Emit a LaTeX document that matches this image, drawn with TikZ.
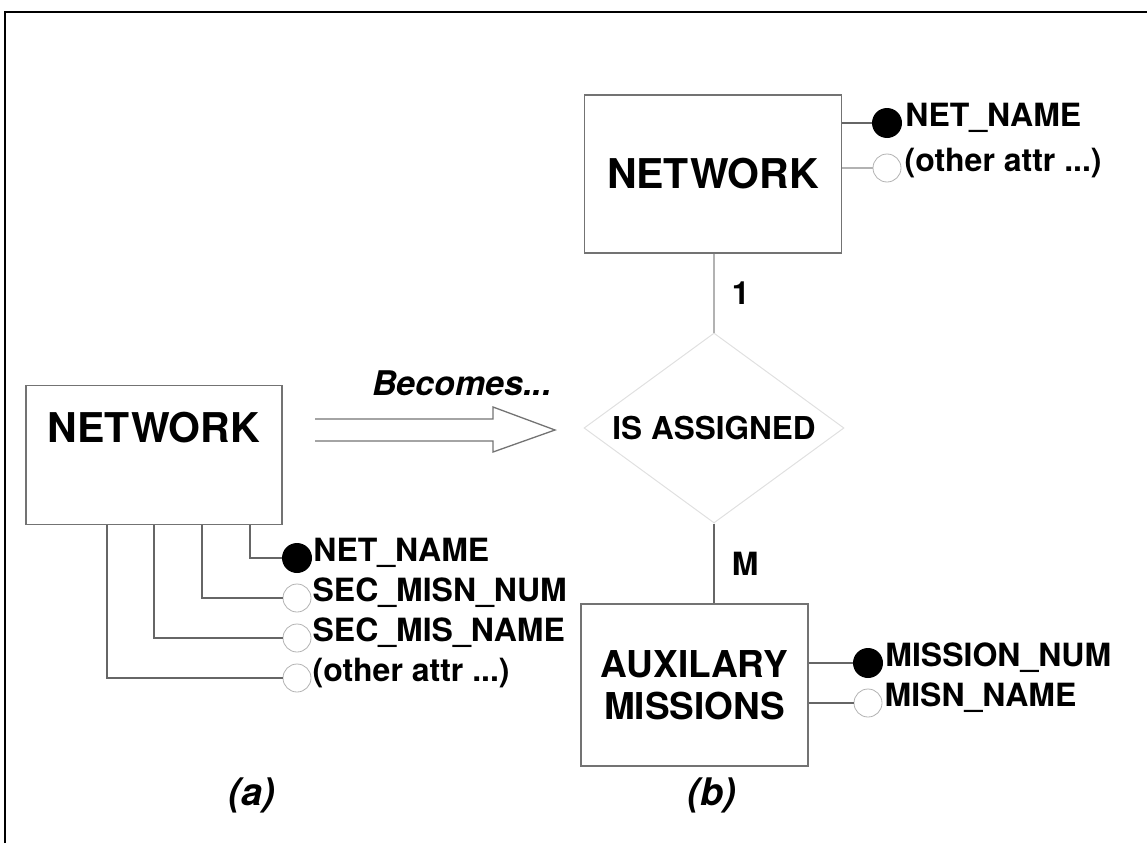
\documentclass[tikz,border=0pt]{standalone}
\usepackage{fontspec}
\setmainfont{TeX Gyre Heros}
\usetikzlibrary{shapes.geometric,positioning}

\begin{document}
\begin{tikzpicture}[x=1pt,y=-1pt,
  entity/.style={draw=black!55,line width=1.3pt,inner sep=0pt},
  bigname/.style={font=\bfseries\fontsize{41}{46}\selectfont},
  relation/.style={diamond,draw=black!12,line width=1pt,inner sep=0pt,aspect=1.4,
    minimum width=260pt,minimum height=190pt,font=\bfseries\fontsize{31.5}{34}\selectfont},
  keyattr/.style={circle,fill=black,inner sep=0pt,minimum size=30pt},
  attr/.style={circle,draw=black!30,line width=0.8pt,inner sep=0pt,minimum size=28pt},
  attrname/.style={anchor=west,inner sep=0pt,text height=1.4ex,text depth=0pt,
    font=\bfseries\fontsize{32}{36}\selectfont},
  conn/.style={draw=black!60,line width=1.3pt},
  card/.style={font=\bfseries\fontsize{32}{36}\selectfont},
  caption/.style={font=\bfseries\itshape\fontsize{38}{42}\selectfont}]

  \useasboundingbox (0,0) rectangle (1147,843);
  \draw[line width=2.5pt] (5,843) -- (5,12) -- (1147,12); % frame

  % (a) the entity with its attributes
  \node[entity,minimum width=256pt,minimum height=139pt] (neta) at (154,455) {};
  \node[bigname] (neta-name) at (154,428) {NETWORK};

  \node[keyattr] (a1) at (297,558) {};
  \node[attr] (a2) at (297,598) {};
  \node[attr] (a3) at (297,638) {};
  \node[attr] (a4) at (297,678) {};
  \node[attrname,right=1pt of a1] (a1-name) {NET\_NAME};
  \node[attrname,right=1pt of a2] (a2-name) {SEC\_MISN\_NUM};
  \node[attrname,right=1pt of a3] (a3-name) {SEC\_MIS\_NAME};
  \node[attrname,right=1pt of a4] (a4-name) {(other attr ...)};

  \foreach \n/\dx in {a1/96,a2/48,a3/0,a4/-47} % one drop line per attribute
    \draw[conn] ([xshift=\dx pt]neta.south) |- (\n);

  % the big arrow
  \draw[black!55,line width=1.3pt] (315,419) -- (493,419) -- (493,407) -- (555,430)
    -- (493,452) -- (493,441) -- (315,441);
  \node[font=\bfseries\itshape\fontsize{34}{38}\selectfont] (becomes) at (462,383) {Becomes...};

  % (b) entities and relationship
  \node[entity,minimum width=257pt,minimum height=158pt,bigname] (netb) at (713,174) {NETWORK};
  \node[keyattr] (b1) at (887,123) {};
  \node[attr] (b2) at (887,168) {};
  \node[attrname,right=3pt of b1] (b1-name) {NET\_NAME};
  \node[attrname,right=3pt of b2] (b2-name) {(other attr ...)};
  \draw[conn] (netb.east |- b1) -- (b1);
  \draw[conn,draw=black!30] (netb.east |- b2) -- (b2);

  \node[relation] (assign) at (714,428) {IS ASSIGNED};

  \node[entity,minimum width=227pt,minimum height=162pt,align=center,
    font=\bfseries\fontsize{37}{42}\selectfont] (aux) at (694.5,685) {AUXILARY\\MISSIONS};
  \node[keyattr] (c1) at (868,663) {};
  \node[attr] (c2) at (868,703) {};
  \node[attrname,right=2pt of c1] (c1-name) {MISSION\_NUM};
  \node[attrname,right=2pt of c2] (c2-name) {MISN\_NAME};
  \draw[conn] (aux.east |- c1) -- (c1);
  \draw[conn] (aux.east |- c2) -- (c2);

  \draw[conn,draw=black!30] (netb.south -| assign) -- node[card,right=14pt] (one) {1} (assign.north);
  \draw[conn] (assign.south) -- node[card,right=14pt] (many) {M} (assign.south |- aux.north);

  \node[caption] (cap-a) at (252,795) {(a)};
  \node[caption] (cap-b) at (712,795) {(b)};
\end{tikzpicture}
\end{document}
